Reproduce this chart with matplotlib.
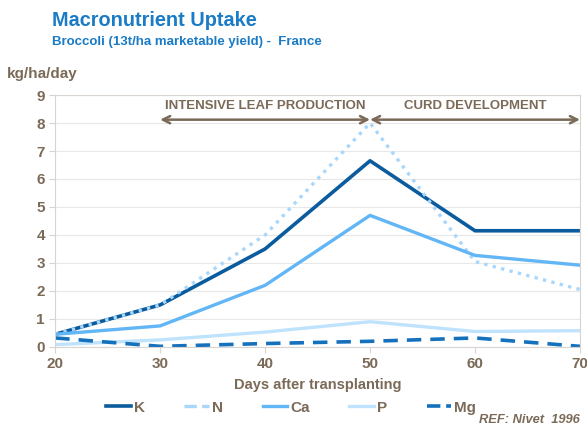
import numpy as np
import matplotlib.pyplot as plt
from matplotlib.lines import Line2D

plt.rcParams['font.family'] = ['Liberation Sans', 'DejaVu Sans']

# data
days = [20, 30, 40, 50, 60, 70]
k_vals = [0.45, 1.5, 3.5, 6.65, 4.15, 4.15]
n_vals = [0.45, 1.5, 4.0, 8.0, 3.05, 2.05]
ca_vals = [0.45, 0.75, 2.2, 4.7, 3.27, 2.92]
p_vals = [0.08, 0.25, 0.53, 0.9, 0.55, 0.58]
mg_vals = [0.32, 0.02, 0.12, 0.2, 0.32, 0.02]

y_ticks = list(range(0, 10))
x_ticks = days

brown = '#7b6a58'
title_blue = '#1a7bc6'

fig = plt.figure(figsize=(5.87, 4.32), dpi=100)
ax = fig.add_axes([0.094, 0.197, 0.894, 0.583])

ax.plot(days, k_vals, color='#0b5c9e', lw=2.6, label='K', solid_capstyle='butt')
ax.plot(days, n_vals, color='#a9d6fb', lw=2.4, ls=(0, (1, 1.6)), label='N')
ax.plot(days, ca_vals, color='#63b6f6', lw=2.4, label='Ca')
ax.plot(days, p_vals, color='#bfe2fd', lw=2.4, label='P')
ax.plot(days, mg_vals, color='#1671bd', lw=2.6, ls=(0, (4, 2.5)), label='Mg')

ax.set_xlim(20, 70)
ax.set_ylim(0, 9)
ax.set_xticks(x_ticks)
ax.set_yticks(y_ticks)
ax.grid(axis='y', color='#e8e8e8', lw=0.8)
ax.set_axisbelow(True)
for s in ax.spines.values():
    s.set_color('#d9d4cf')
ax.tick_params(colors='#d9d4cf', labelcolor=brown, labelsize=11, length=4)
for lbl in ax.get_xticklabels() + ax.get_yticklabels():
    lbl.set_fontweight('bold')
ax.set_xlabel('Days after transplanting', color=brown, fontsize=10.5,
              fontweight='bold', labelpad=5)

# growth phase arrows
phases = [(30, 50, 'INTENSIVE LEAF PRODUCTION'), (50, 70, 'CURD DEVELOPMENT')]
for x0, x1, txt in phases:
    ax.annotate('', xy=(x0, 8.12), xytext=(x1, 8.12),
                arrowprops=dict(arrowstyle='<->', color=brown, lw=1.8,
                                shrinkA=0, shrinkB=0, mutation_scale=13),
                annotation_clip=False)
    ax.text((x0 + x1) / 2, 8.6, txt, ha='center', va='center', color=brown,
            fontsize=9.5, fontweight='bold')

handles = [Line2D([], [], color=l.get_color(), lw=l.get_linewidth(),
                  ls=l.get_linestyle()) for l in ax.get_lines()]
fig.legend(handles, ['K', 'N', 'Ca', 'P', 'Mg'], loc='center',
           bbox_to_anchor=(0.496, 0.056), ncol=5, frameon=False,
           handlelength=1.6, handletextpad=0.2, columnspacing=2.6,
           prop=dict(size=11, weight='bold'), labelcolor=brown)

fig.text(0.089, 0.952, 'Macronutrient Uptake', color=title_blue,
         fontsize=14.3, fontweight='bold', va='center')
fig.text(0.089, 0.903, 'Broccoli (13t/ha marketable yield) -  France',
         color=title_blue, fontsize=9.5, fontweight='bold', va='center')
fig.text(0.012, 0.828, 'kg/ha/day', color=brown, fontsize=11,
         fontweight='bold', va='center')
fig.text(0.988, 0.027, 'REF: Nivet  1996', color=brown, fontsize=9.3,
         fontweight='bold', style='italic', ha='right', va='center')

fig.savefig('out.png', dpi=100)
